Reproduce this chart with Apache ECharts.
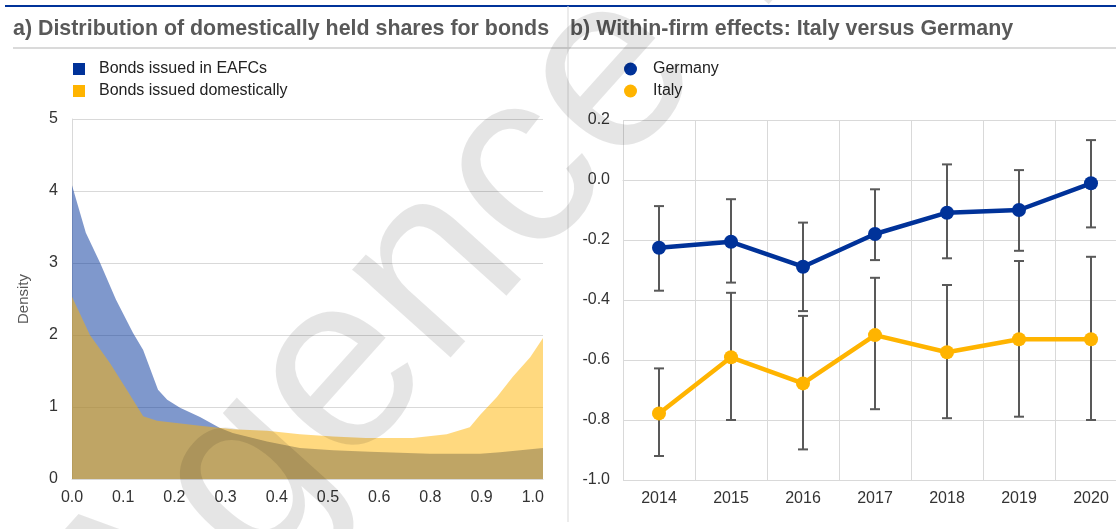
<!DOCTYPE html>
<html lang="en">
<head>
<meta charset="UTF-8">
<title>Domestically held shares and within-firm effects</title>
<script src="https://cdn.jsdelivr.net/npm/echarts@6/dist/echarts.min.js"></script>
<style>
html, body { margin: 0; padding: 0; background: #fff; }
#chart { width: 1116px; height: 529px; }
</style>
</head>
<body>
<div id="chart"></div>
<script>
// a) density curves; x is in axis units, one tick label every 0.1
const shareTicks = ['0.0', '0.1', '0.2', '0.3', '0.4', '0.5', '0.6', '0.8', '0.9', '1.0'];
const eafcX = [0, 0.027, 0.055, 0.086, 0.119, 0.139, 0.168, 0.186, 0.211, 0.25, 0.289, 0.314, 0.381, 0.445, 0.51, 0.582, 0.699, 0.797, 0.836, 0.92];
const eafcDensity = [4.08, 3.42, 3.0, 2.49, 2.03, 1.79, 1.24, 1.1, 0.99, 0.86, 0.71, 0.64, 0.52, 0.43, 0.4, 0.38, 0.35, 0.35, 0.37, 0.43];
const domX = [0, 0.035, 0.074, 0.107, 0.139, 0.166, 0.25, 0.314, 0.381, 0.445, 0.51, 0.574, 0.666, 0.732, 0.777, 0.797, 0.83, 0.861, 0.895, 0.92];
const domDensity = [2.53, 2.0, 1.61, 1.24, 0.87, 0.81, 0.74, 0.69, 0.67, 0.62, 0.59, 0.57, 0.57, 0.62, 0.72, 0.89, 1.14, 1.42, 1.69, 1.96];

// b) within-firm effects with confidence bands
const years = ['2014', '2015', '2016', '2017', '2018', '2019', '2020'];
const germany = [-0.226, -0.206, -0.289, -0.18, -0.109, -0.1, -0.011];
const germanyLow = [-0.369, -0.342, -0.437, -0.267, -0.261, -0.236, -0.158];
const germanyHigh = [-0.087, -0.064, -0.142, -0.031, 0.052, 0.033, 0.133];
const italy = [-0.778, -0.591, -0.678, -0.517, -0.574, -0.531, -0.531];
const italyLow = [-0.92, -0.8, -0.898, -0.764, -0.794, -0.789, -0.8];
const italyHigh = [-0.628, -0.376, -0.453, -0.326, -0.35, -0.27, -0.256];

const blue = '#003299';
const yellow = '#FFB400';
const gridGrey = '#d9d9d9';
const font = '"Liberation Sans", Arial, sans-serif';

function errorBar(params, api) {
  const x = api.value(0);
  const lo = api.coord([x, api.value(1)]);
  const hi = api.coord([x, api.value(2)]);
  const cap = 5;
  const style = { stroke: '#595959', lineWidth: 2 };
  return {
    type: 'group',
    children: [
      { type: 'line', shape: { x1: lo[0], y1: lo[1], x2: hi[0], y2: hi[1] }, style: style },
      { type: 'line', shape: { x1: lo[0] - cap, y1: lo[1], x2: lo[0] + cap, y2: lo[1] }, style: style },
      { type: 'line', shape: { x1: hi[0] - cap, y1: hi[1], x2: hi[0] + cap, y2: hi[1] }, style: style }
    ]
  };
}

const chart = echarts.init(document.getElementById('chart'));
chart.setOption({
  animation: false,
  textStyle: { fontFamily: font },
  graphic: [
    { type: 'line', shape: { x1: 5, y1: 6, x2: 1116, y2: 6 }, style: { stroke: blue, lineWidth: 2 } },
    { type: 'line', shape: { x1: 13, y1: 48, x2: 1116, y2: 48 }, style: { stroke: '#dadada', lineWidth: 2 } },
    { type: 'line', shape: { x1: 568, y1: 6, x2: 568, y2: 522 }, style: { stroke: gridGrey, lineWidth: 1 } },
    { type: 'text', x: 13, y: 29, style: { text: 'a) Distribution of domestically held shares for bonds', font: 'bold 21.4px ' + font, fill: '#595959', verticalAlign: 'middle' } },
    { type: 'text', x: 570, y: 29, style: { text: 'b) Within-firm effects: Italy versus Germany', font: 'bold 21.4px ' + font, fill: '#595959', verticalAlign: 'middle' } },
    { type: 'text', x: 90, y: 655, rotation: 48 * Math.PI / 180, z: 100, silent: true,
      style: { text: 'Agence Europe', font: '250px ' + font, fill: 'rgba(0,0,0,0.1)', verticalAlign: 'middle' } }
  ],
  legend: [{
    orient: 'vertical', left: 73, top: 61, padding: 0, itemGap: 6, itemWidth: 12, itemHeight: 12,
    icon: 'rect', selectedMode: false,
    textStyle: { fontSize: 16, color: '#222', padding: [0, 0, 0, 9] },
    data: ['Bonds issued in EAFCs', 'Bonds issued domestically']
  }, {
    orient: 'vertical', left: 624, top: 61, padding: 0, itemGap: 6, itemWidth: 13, itemHeight: 13,
    icon: 'circle', selectedMode: false,
    textStyle: { fontSize: 16, color: '#222', padding: [0, 0, 0, 11] },
    data: ['Germany', 'Italy']
  }],
  grid: [
    { left: 72, right: 573, top: 119, bottom: 50, outerBoundsMode: 'none' },
    { left: 623, width: 504, top: 120, bottom: 49, outerBoundsMode: 'none' }
  ],
  xAxis: [{
    gridIndex: 0, type: 'value', min: 0, max: 0.92, interval: 0.1,
    axisLine: { lineStyle: { color: gridGrey } }, axisTick: { show: false }, splitLine: { show: false },
    axisLabel: {
      fontSize: 16, color: '#333', margin: 11,
      formatter: function (v) {
        const k = Math.round(v * 10);
        return Math.abs(v * 10 - k) < 1e-6 && shareTicks[k] !== undefined ? shareTicks[k] : '';
      }
    }
  }, {
    gridIndex: 1, type: 'category', data: years, boundaryGap: true,
    axisLine: { lineStyle: { color: gridGrey } }, axisTick: { show: false },
    splitLine: { show: true, lineStyle: { color: gridGrey } },
    axisLabel: { fontSize: 16, color: '#333', margin: 11 }
  }],
  yAxis: [{
    gridIndex: 0, type: 'value', min: 0, max: 5, interval: 1,
    name: 'Density', nameLocation: 'middle', nameRotate: 90, nameGap: 41,
    nameTextStyle: { fontSize: 15, color: '#595959' },
    axisLine: { show: true, lineStyle: { color: gridGrey } }, axisTick: { show: false },
    splitLine: { lineStyle: { color: gridGrey } },
    axisLabel: { fontSize: 16, color: '#333', margin: 14 }
  }, {
    gridIndex: 1, type: 'value', min: -1, max: 0.2, interval: 0.2,
    axisLine: { show: false }, axisTick: { show: false },
    splitLine: { lineStyle: { color: gridGrey } },
    axisLabel: {
      fontSize: 16, color: '#333', margin: 13,
      formatter: function (v) { return (Math.abs(v) < 1e-9 ? 0 : v).toFixed(1); }
    }
  }],
  series: [{
    name: 'Bonds issued in EAFCs', type: 'line', xAxisIndex: 0, yAxisIndex: 0,
    data: eafcX.map(function (x, i) { return [x, eafcDensity[i]]; }),
    color: blue, symbol: 'none', lineStyle: { width: 0 },
    areaStyle: { color: 'rgba(0,50,153,0.5)', opacity: 1 }, silent: true, z: 2
  }, {
    name: 'Bonds issued domestically', type: 'line', xAxisIndex: 0, yAxisIndex: 0,
    data: domX.map(function (x, i) { return [x, domDensity[i]]; }),
    color: yellow, symbol: 'none', lineStyle: { width: 0 },
    areaStyle: { color: 'rgba(255,180,0,0.5)', opacity: 1 }, silent: true, z: 3
  }, {
    type: 'custom', xAxisIndex: 1, yAxisIndex: 1, renderItem: errorBar, z: 1, silent: true,
    encode: { x: 0, y: [1, 2] },
    data: years.map(function (y, i) { return [i, germanyLow[i], germanyHigh[i]]; })
  }, {
    type: 'custom', xAxisIndex: 1, yAxisIndex: 1, renderItem: errorBar, z: 1, silent: true,
    encode: { x: 0, y: [1, 2] },
    data: years.map(function (y, i) { return [i, italyLow[i], italyHigh[i]]; })
  }, {
    name: 'Germany', type: 'line', xAxisIndex: 1, yAxisIndex: 1, data: germany,
    color: blue, symbol: 'circle', symbolSize: 14, lineStyle: { width: 4.5 }, z: 5
  }, {
    name: 'Italy', type: 'line', xAxisIndex: 1, yAxisIndex: 1, data: italy,
    color: yellow, symbol: 'circle', symbolSize: 14, lineStyle: { width: 4.5 }, z: 5
  }]
});
</script>
</body>
</html>
